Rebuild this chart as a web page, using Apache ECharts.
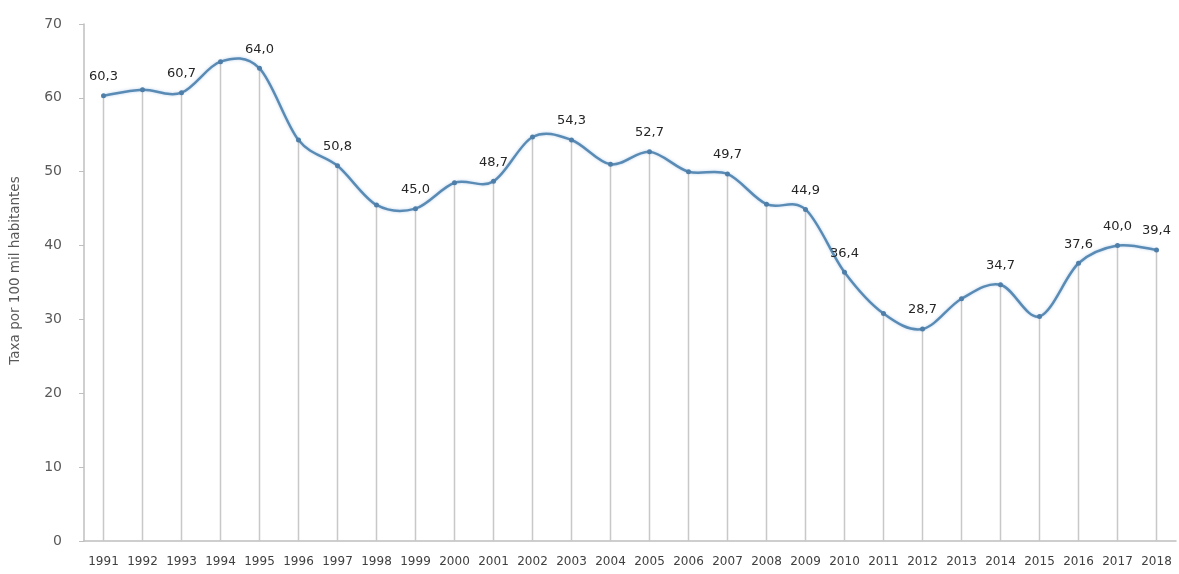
<!DOCTYPE html>
<html><head><meta charset="utf-8">
<script src="https://cdn.jsdelivr.net/npm/echarts@6/dist/echarts.min.js"></script>
<style>html,body{margin:0;padding:0;background:#fff}#c{width:1179px;height:574px}</style>
</head><body><div id="c"></div>
<script>
const years = ['1991','1992','1993','1994','1995','1996','1997','1998','1999','2000','2001','2002','2003','2004','2005','2006','2007','2008','2009','2010','2011','2012','2013','2014','2015','2016','2017','2018'];
const rates = [60.3,61.1,60.7,64.9,64.0,54.3,50.8,45.5,45.0,48.5,48.7,54.7,54.3,51.0,52.7,50.0,49.7,45.6,44.9,36.4,30.8,28.7,32.8,34.7,30.4,37.6,40.0,39.4];
const labeled = [1,0,1,0,1,0,1,0,1,0,1,0,1,0,1,0,1,0,1,1,0,1,0,1,0,1,1,1];
const yTicks = [0,10,20,30,40,50,60,70];
const yName = 'Taxa por 100 mil habitantes';

const fmt = v => v.toFixed(1).replace('.', ',');
const N = rates.length;
const chart = echarts.init(document.getElementById('c'));

function renderSeg(params, api) {
  const i = params.dataIndex;
  if (i >= N - 1) return null;
  const c = k => api.coord([Math.max(0, Math.min(N - 1, k)), rates[Math.max(0, Math.min(N - 1, k))]]);
  const p0 = c(i - 1), p1 = c(i), p2 = c(i + 1), p3 = c(i + 2);
  const t = 1 / 6;
  return {
    type: 'bezierCurve',
    shape: {
      x1: p1[0], y1: p1[1], x2: p2[0], y2: p2[1],
      cpx1: p1[0] + (p2[0] - p0[0]) * t, cpy1: p1[1] + (p2[1] - p0[1]) * t,
      cpx2: p2[0] - (p3[0] - p1[0]) * t, cpy2: p2[1] - (p3[1] - p1[1]) * t
    },
    style: {stroke: '#5a8bb5', lineWidth: 2.5, fill: null, shadowColor: 'rgba(120,170,220,0.5)', shadowBlur: 3},
    silent: true
  };
}

chart.setOption({
  animation: false,
  grid: {left: 84, right: 3, top: 24, bottom: 33},
  xAxis: {
    type: 'category', data: years, boundaryGap: true,
    axisLine: {lineStyle: {color: '#bfbfbf', width: 1.5}},
    axisTick: {show: false},
    axisLabel: {color: '#404040', fontFamily: 'DejaVu Sans', fontSize: 12, margin: 15, interval: 0}
  },
  yAxis: {
    type: 'value', min: yTicks[0], max: yTicks[yTicks.length-1], interval: 10,
    name: yName, nameLocation: 'middle', nameGap: 62, nameRotate: 90,
    nameTextStyle: {color: '#595959', fontFamily: 'DejaVu Sans', fontSize: 13.5, padding: [0, 0, 0, 24]},
    axisLine: {show: true, lineStyle: {color: '#bfbfbf', width: 1.5}},
    axisTick: {show: true, length: 5, lineStyle: {color: '#bfbfbf'}},
    splitLine: {show: false},
    axisLabel: {color: '#595959', fontFamily: 'DejaVu Sans', fontSize: 14, margin: 22}
  },
  series: [
    {
      type: 'bar', data: rates, barWidth: 1.5, silent: true,
      itemStyle: {color: '#c8c8c8'}
    },
    {
      type: 'custom', data: rates.map((v, i) => [i, v]), renderItem: renderSeg,
      encode: {x: 0, y: 1}, z: 4
    },
    {
      type: 'line', data: rates.map((v, i) => ({
        value: v,
        label: {show: !!labeled[i]}
      })),
      symbol: 'circle', symbolSize: 5,
      lineStyle: {opacity: 0},
      itemStyle: {color: '#4f7fa8'},
      label: {
        position: 'top', distance: 10, color: '#262626',
        fontFamily: 'DejaVu Sans', fontSize: 13,
        formatter: p => fmt(p.value)
      },
      z: 5
    }
  ]
});
</script></body></html>
